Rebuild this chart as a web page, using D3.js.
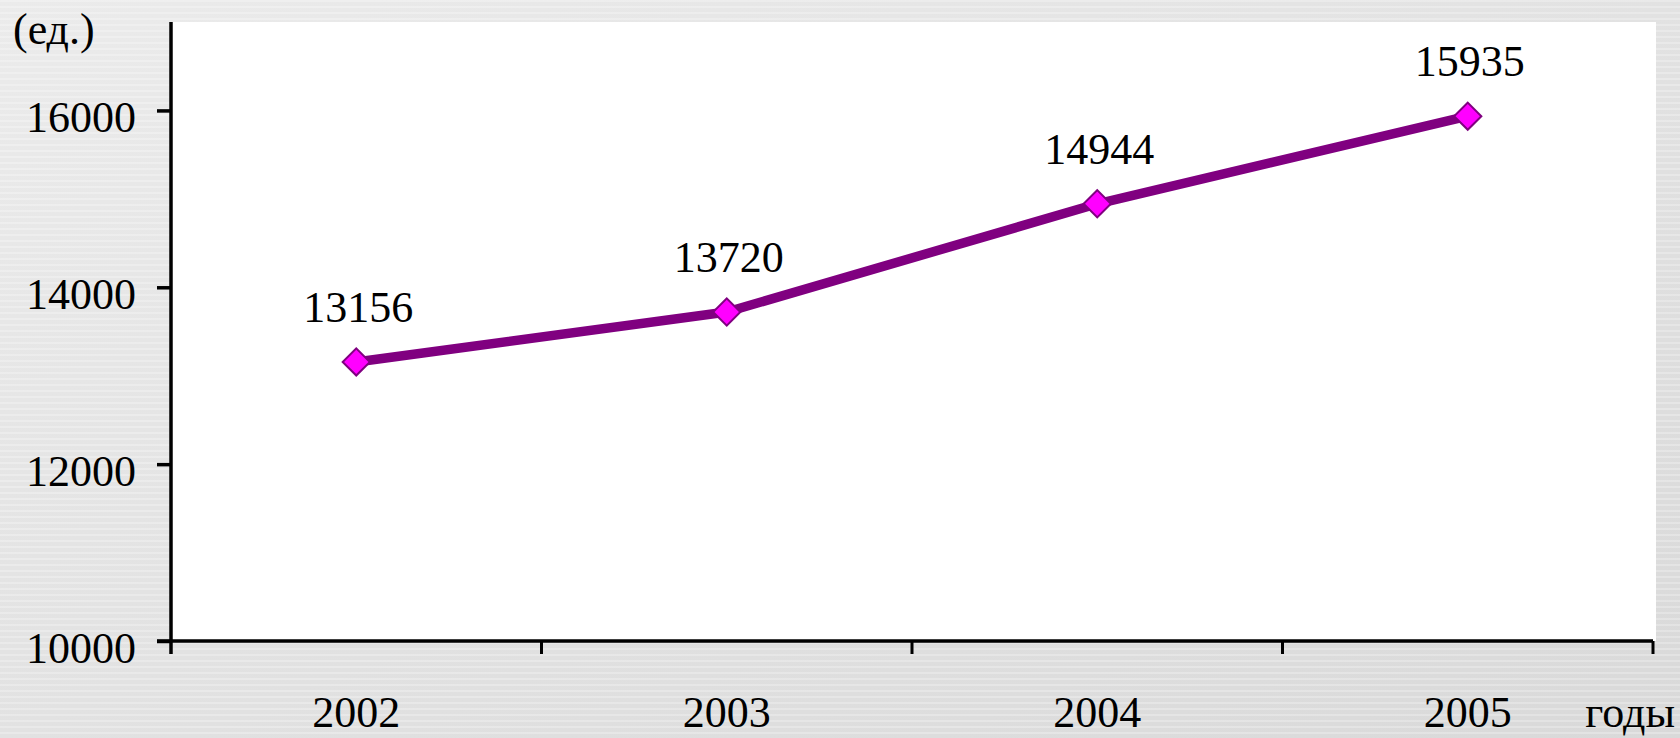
<!DOCTYPE html>
<html>
<head>
<meta charset="utf-8">
<script src="https://cdn.jsdelivr.net/npm/d3@7"></script>
<style>
html,body{margin:0;padding:0;}
body{width:1680px;height:738px;overflow:hidden;}
text{font-family:"Liberation Serif","Times New Roman",serif;fill:#000;}
</style>
</head>
<body>
<svg id="chart" width="1680" height="738"></svg>
<script>
const years = ["2002", "2003", "2004", "2005"];
const values = [13156, 13720, 14944, 15935];
const yTicks = [10000, 12000, 14000, 16000];
const yUnit = "(ед.)";
const xUnit = "годы";

const W = 1680, H = 738;
const m = {left: 171, right: 30, top: 22, bottom: 97};
const svg = d3.select("#chart");

// background
const defs = svg.append("defs");
const g1 = defs.append("linearGradient").attr("id","bg").attr("x1","0").attr("y1","0").attr("x2","1").attr("y2","1");
g1.append("stop").attr("offset","0").attr("stop-color","#ebebeb");
g1.append("stop").attr("offset","0.5").attr("stop-color","#e2e2e2");
g1.append("stop").attr("offset","1").attr("stop-color","#d9d9d9");
svg.append("rect").attr("width",W).attr("height",H).attr("fill","url(#bg)");
const pat = defs.append("pattern").attr("id","stripes").attr("width",8).attr("height",6).attr("patternUnits","userSpaceOnUse");
pat.append("rect").attr("width",8).attr("height",2).attr("fill","#ffffff").attr("opacity",0.25);
svg.append("rect").attr("width",W).attr("height",H).attr("fill","url(#stripes)");

const x = d3.scaleBand().domain(years).range([m.left, W - m.right + 3]).padding(0);
const y = d3.scaleLinear().domain([10000, 17000]).range([H - m.bottom, m.top]);

// plot area
svg.append("rect")
  .attr("x", x.range()[0]).attr("y", y(17000))
  .attr("width", x.range()[1] - x.range()[0] + 3)
  .attr("height", y(10000) - y(17000))
  .attr("fill", "#ffffff");

// y axis
const yAxis = d3.axisLeft(y).tickValues(yTicks).tickSize(14).tickPadding(21).tickFormat(d3.format("d"));
const ya = svg.append("g").attr("transform", `translate(${m.left},0)`).call(yAxis);
ya.select(".domain").remove();
ya.append("line").attr("x1",0).attr("x2",0).attr("y1",y(17000)).attr("y2",y(10000)+13)
  .attr("stroke","#000").attr("stroke-width",3.5);
ya.selectAll(".tick line").attr("stroke","#000").attr("stroke-width",3.5);
ya.selectAll(".tick text").attr("font-size",44).attr("dy",null).attr("dominant-baseline","auto")
  .attr("y",21).attr("fill","#000");

// x axis
const xAxis = d3.axisBottom(x).tickSize(0).tickPadding(0);
const xa = svg.append("g").attr("transform", `translate(0,${y(10000)})`).call(xAxis);
xa.select(".domain").remove();
xa.append("line").attr("x1", m.left - 14).attr("x2", x.range()[1]).attr("y1",0).attr("y2",0)
  .attr("stroke","#000").attr("stroke-width",3.5);
xa.selectAll(".tick text").attr("font-size",44).attr("dy",null).attr("y",86).attr("fill","#000");
const bounds = years.map(d => x(d)).concat([x.range()[1]]).slice(1);
xa.selectAll(".bt").data(bounds).join("line").attr("class","bt")
  .attr("x1", d => d).attr("x2", d => d).attr("y1", 0).attr("y2", 13)
  .attr("stroke","#000").attr("stroke-width",3);

// unit labels
svg.append("text").attr("x", 13).attr("y", 44).attr("font-size",44).text(yUnit);
svg.append("text").attr("x", 1675).attr("y", 727).attr("font-size",44).attr("text-anchor","end").text(xUnit);

// line
const cx = d => x(d) + x.bandwidth() / 2;
const line = d3.line().x((d,i) => cx(years[i])).y(d => y(d));
svg.append("path").datum(values).attr("d", line)
  .attr("fill","none").attr("stroke","#800080").attr("stroke-width",9.5).attr("stroke-linejoin","round");

// markers
const sym = d3.symbol().type(d3.symbolSquare).size(370);
svg.selectAll(".mk").data(values).join("path").attr("class","mk")
  .attr("d", sym)
  .attr("transform", (d,i) => `translate(${cx(years[i])},${y(d)}) rotate(45)`)
  .attr("fill","#ff00ff").attr("stroke","#800080").attr("stroke-width",2);

// value labels
svg.selectAll(".vl").data(values).join("text").attr("class","vl")
  .attr("x", (d,i) => cx(years[i]) + 2)
  .attr("y", d => y(d) - 40)
  .attr("text-anchor","middle").attr("font-size",44)
  .text(d => d);
</script>
</body>
</html>
